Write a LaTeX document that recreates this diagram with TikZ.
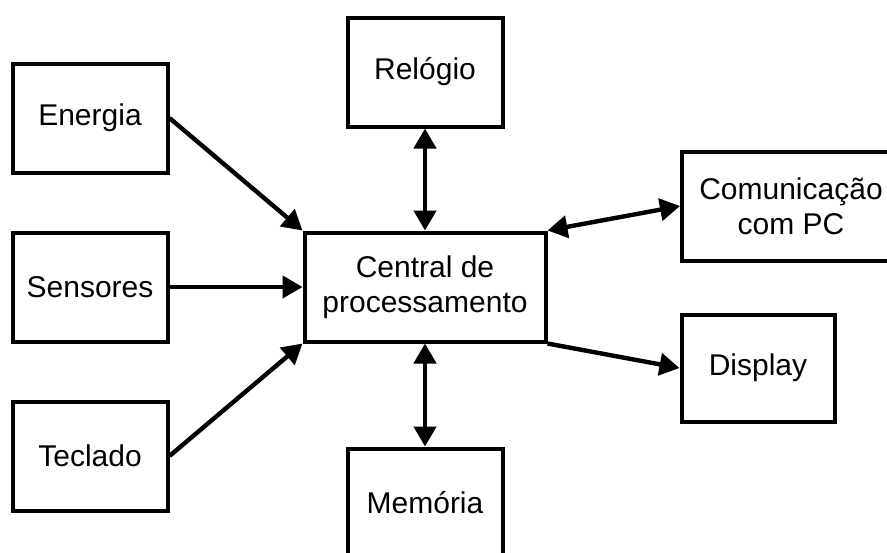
\documentclass[tikz,border=0pt]{standalone}
\usepackage{fontspec}
\setmainfont{Liberation Sans}
\usetikzlibrary{arrows.meta}

\begin{document}
\begin{tikzpicture}[x=0.5pt,y=-0.5pt,>={Triangle[length=10pt,width=11pt]},
    bloco/.style={draw,line width=2pt,minimum width=77.5pt,minimum height=54.5pt,
      align=center,inner sep=0pt,font=\fontsize{15}{17.5}\selectfont},
    liga/.style={line width=2.2pt}]

      \useasboundingbox (0,0) rectangle (887,552);
      \clip (0,0) rectangle (887,552);

      \path (90,118) node [bloco](box_energia){Energia};
      \path (90,287) node [bloco](box_sensores){Sensores};
      \path (90,456) node [bloco](box_teclado){Teclado};
      \path (425,72) node [bloco](box_relogio){Relógio};
      \path (425,287) node [bloco,minimum width=120.5pt](box_central){Central de\\processamento};
      \path (425,503) node [bloco](box_memoria){Memória};
      \path (791,206) node [bloco,minimum width=109pt](box_comunic){Comunicação\\com PC};
      \path (758,368) node [bloco,minimum width=76.5pt,minimum height=53.5pt](box_display){Display};
      % setas para a central
      \draw[liga,->] (box_energia.east) -- (box_central.north west);
      \draw[liga,->] (box_sensores) -- (box_central);
      \draw[liga,->] (box_teclado.east) -- (box_central.south west);
      \draw[liga,<->] (box_relogio) -- (box_central);
      \draw[liga,<->] (box_central) -- (box_memoria);
      \draw[liga,<->] (box_central.north east) -- (box_comunic.west);
      \draw[liga,->] (box_central.south east) -- (box_display.west);

    \end{tikzpicture}
\end{document}
